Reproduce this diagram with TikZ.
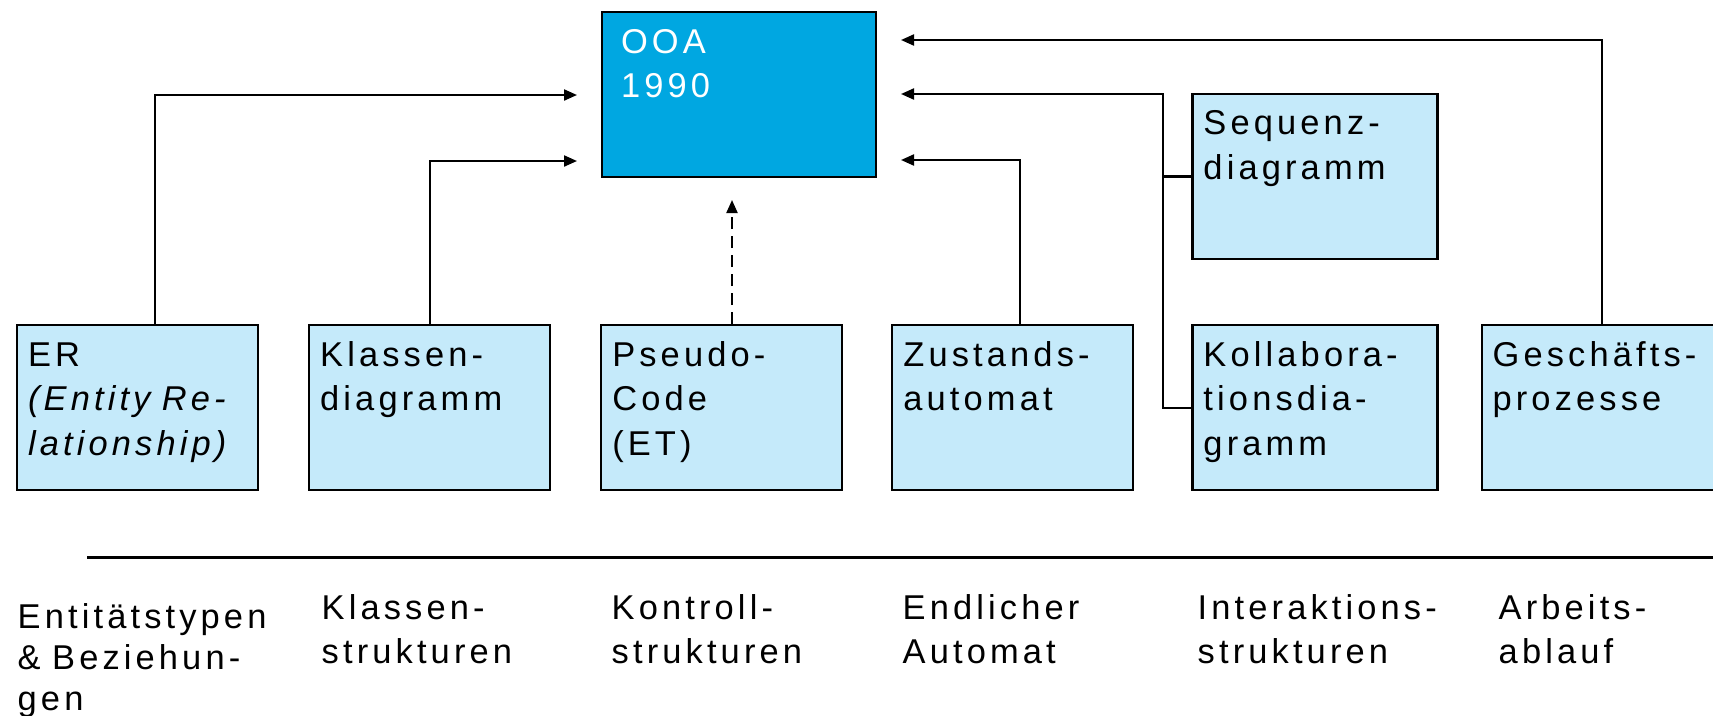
\documentclass[tikz,border=0pt]{standalone}
\usepackage{fontspec}
\setmainfont{Liberation Sans}[LetterSpace=12]
\usepackage{xcolor}
\usetikzlibrary{positioning,arrows.meta}

\definecolor{ooablue}{HTML}{00A7E1}
\definecolor{boxblue}{HTML}{C5EAFA}

\begin{document}
\begin{tikzpicture}[
    x=0.1mm, y=-0.1mm,
    >={Triangle[length=1.3mm,width=1.1mm]},
    every node/.style={font=\fontsize{9.8}{12.7}\selectfont},
    diagbox/.style={rectangle, draw, line width=0.6pt, fill=boxblue, align=left, text width=21.9mm, inner xsep=1.1mm, inner ysep=0pt, text height=4.1mm, text depth=12.4mm},
    widebox/.style={diagbox, text width=22.3mm},
    ooabox/.style={diagbox, fill=ooablue, text=white, text width=23.6mm, inner xsep=1.9mm},
    lbl/.style={align=left, text width=28mm, inner sep=0pt, anchor=base west},
    conn/.style={line width=0.6pt}
]
\useasboundingbox (0,0) rectangle (1713,715);

\node[ooabox, anchor=north west] (ooa) at (601,11) {OOA\\1990};

\node[diagbox, anchor=north west] (er) at (16,324) {ER\\\textit{(Entity Re-}\\\textit{lationship)}};
\node[diagbox, right=4.9mm of er] (kd) {Klassen-\\diagramm};
\node[diagbox, right=4.9mm of kd] (pc) {Pseudo-\\Code\\(ET)};
\node[diagbox, right=4.8mm of pc] (za) {Zustands-\\automat};
\node[widebox, right=5.7mm of za] (kb) {Kollabora-\\tionsdia-\\gramm};
\node[diagbox, right=4.2mm of kb] (gp) {Geschäfts-\\prozesse};
\node[widebox, above=6.4mm of kb] (sd) {Sequenz-\\diagramm};

% arrow ends beside OOA
\coordinate (inl1) at (577,95);
\coordinate (inl2) at (577,161);
\coordinate (inr1) at (901,40);
\coordinate (inr2) at (901,94);
\coordinate (inr3) at (901,160);
\coordinate (inb) at (732,200);
\coordinate (bus) at (1163,94);
\coordinate (rulel) at (87,557);
\coordinate (ruler) at (1713,557);

\draw[conn, ->] ([xshift=1.7mm]er.north) |- (inl1);
\draw[conn, ->] (kd.north) |- (inl2);
\draw[conn, ->, dash pattern=on 1.2mm off 0.7mm] (inb |- pc.north) -- (inb);
\draw[conn, ->] ([xshift=0.75mm]za.north) |- (inr3);
\draw[conn, ->] (kb.west) -| (bus) -- (inr2);
\draw[conn] (sd.west) -- (sd.west -| bus);
\draw[conn, ->] (gp.north) |- (inr1);

\draw[line width=0.85pt] (rulel) -- (ruler);

\node[lbl, font=\fontsize{9.8}{11.7}\selectfont] (l1) at (17,628) {Entitätstypen\\\& Beziehun-\\gen};
\node[lbl] (l2) at (321,619) {Klassen-\\strukturen};
\node[lbl] (l3) at (611,619) {Kontroll-\\strukturen};
\node[lbl] (l4) at (902,619) {Endlicher\\Automat};
\node[lbl] (l5) at (1197,619) {Interaktions-\\strukturen};
\node[lbl] (l6) at (1498,619) {Arbeits-\\ablauf};

\end{tikzpicture}
\end{document}
